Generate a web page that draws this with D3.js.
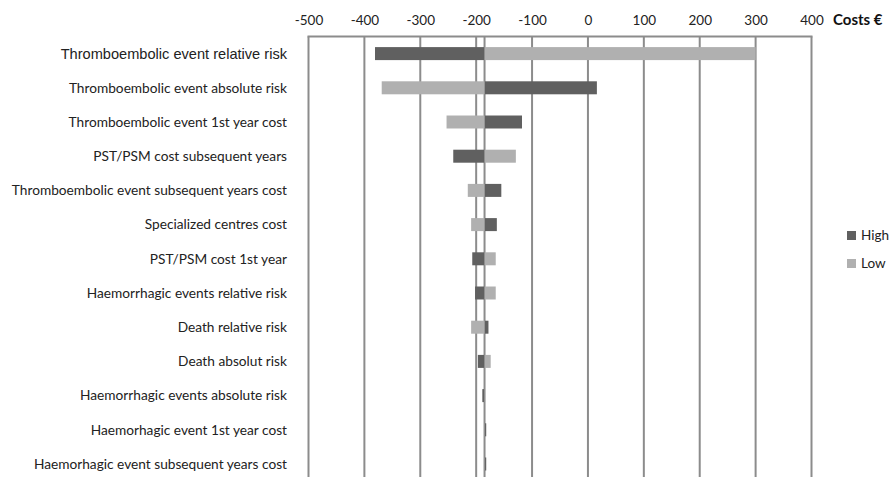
<!DOCTYPE html>
<html>
  <head>
    <meta charset="utf-8">
    <title>Tornado diagram</title>
    <script src="https://cdn.jsdelivr.net/npm/d3@7/dist/d3.min.js"></script>
    <style>
      body { margin: 0; background: #fff; }
      #chart { display: block; }
      .tick-label { font-family: Lato, "Open Sans", sans-serif; font-size: 13.5px; fill: #222; }
      .cat-label { font-family: Lato, "Open Sans", sans-serif; font-size: 13.7px; fill: #222; }
      .cat-label.first { font-family: "Liberation Sans", Arial, sans-serif; font-size: 14.6px; }
      .grid { stroke: #8c8c8c; stroke-width: 2; }
    </style>
  </head>

  <body>
    <svg id="chart" width="889" height="477"></svg>

    <script>
      // data
      categories = [
        "Thromboembolic event relative risk",
        "Thromboembolic event absolute risk",
        "Thromboembolic event 1st year cost",
        "PST/PSM cost subsequent years",
        "Thromboembolic event subsequent years cost",
        "Specialized centres cost",
        "PST/PSM cost 1st year",
        "Haemorrhagic events relative risk",
        "Death relative risk",
        "Death absolut risk",
        "Haemorrhagic events absolute risk",
        "Haemorhagic event 1st year cost",
        "Haemorhagic event subsequent years cost"
      ];
      highValues = [-381, 16, -118, -241, -155, -163, -207, -202, -178, -197, -189, -182, -182];
      lowValues = [300, -369, -253, -129, -215, -209, -165, -165, -209, -174, -184, -185, -185];
      baseCase = -185;
      tickValues = [-500, -400, -300, -200, -100, 0, 100, 200, 300, 400];
      seriesNames = ["High", "Low"];

      colours = d3.scaleOrdinal()
        .domain(seriesNames)
        .range(["#606060", "#b0b0b0"]);

      // elements
      svg = d3.select("#chart");

      x = d3.scaleLinear()
        .domain([-500, 400])
        .range([308.5, 811.5]);

      plotTop = 36.5;
      y = d3.scaleBand()
        .domain(categories)
        .range([plotTop, plotTop + categories.length * 34.2])
        .paddingInner(0.62)
        .paddingOuter(0.31);

      // grid + frame
      svg.append("g")
        .selectAll("line")
          .data(tickValues)
        .enter().append("line")
          .classed("grid", true)
          .attr("x1", function(d) { return x(d); })
          .attr("x2", function(d) { return x(d); })
          .attr("y1", plotTop)
          .attr("y2", 490);

      svg.append("line")
        .classed("grid", true)
        .attr("x1", x(-500) - 1)
        .attr("x2", x(400) + 1)
        .attr("y1", plotTop)
        .attr("y2", plotTop);

      svg.append("line")
        .classed("grid", true)
        .attr("x1", x(baseCase))
        .attr("x2", x(baseCase))
        .attr("y1", plotTop)
        .attr("y2", 490);

      // top axis labels (plain hyphen, as in the source)
      axis = d3.axisTop(x)
        .tickValues(tickValues)
        .tickSize(0)
        .tickPadding(0)
        .tickFormat(function(d) { return String(d); });

      axisGroup = svg.append("g")
        .attr("transform", "translate(0, 25)")
        .call(axis);
      axisGroup.select(".domain").remove();
      axisGroup.selectAll("text")
        .attr("class", "tick-label")
        .attr("fill", "#222")
        .attr("dy", 0);

      svg.append("text")
        .attr("x", 833)
        .attr("y", 25)
        .style("font-family", "Lato, 'Open Sans', sans-serif")
        .style("font-size", "15px")
        .style("font-weight", "bold")
        .style("fill", "#111")
        .text("Costs €");

      // bars
      rows = categories.map(function(c, i) {
        return { name: c, high: highValues[i], low: lowValues[i] };
      });

      bars = svg.append("g")
        .selectAll(".row")
          .data(rows)
        .enter().append("g")
          .classed("row", true);

      seriesNames.forEach(function(s) {
        bars.append("rect")
          .attr("x", function(d) {
            var v = s == "High" ? d.high : d.low;
            return Math.min(x(v), x(baseCase));
          })
          .attr("width", function(d) {
            var v = s == "High" ? d.high : d.low;
            return Math.max(Math.abs(x(v) - x(baseCase)), 0.5);
          })
          .attr("y", function(d) { return y(d.name); })
          .attr("height", y.bandwidth())
          .style("fill", colours(s));
      });

      // category labels
      svg.append("g")
        .selectAll("text")
          .data(categories)
        .enter().append("text")
          .attr("class", function(d, i) { return i == 0 ? "cat-label first" : "cat-label"; })
          .attr("x", 287)
          .attr("y", function(d) { return y(d) + y.bandwidth() / 2; })
          .attr("dy", "0.35em")
          .attr("text-anchor", "end")
          .text(function(d) { return d; });

      // legend
      legend = svg.append("g")
        .selectAll("g")
          .data(seriesNames)
        .enter().append("g")
          .attr("transform", function(d, i) { return "translate(847, " + (231 + i * 28) + ")"; });
      legend.append("rect")
        .attr("width", 9)
        .attr("height", 9)
        .style("fill", function(d) { return colours(d); });
      legend.append("text")
        .attr("class", "tick-label")
        .attr("x", 14)
        .attr("y", 4.5)
        .attr("dy", "0.35em")
        .text(function(d) { return d; });
    </script>
  </body>
</html>
